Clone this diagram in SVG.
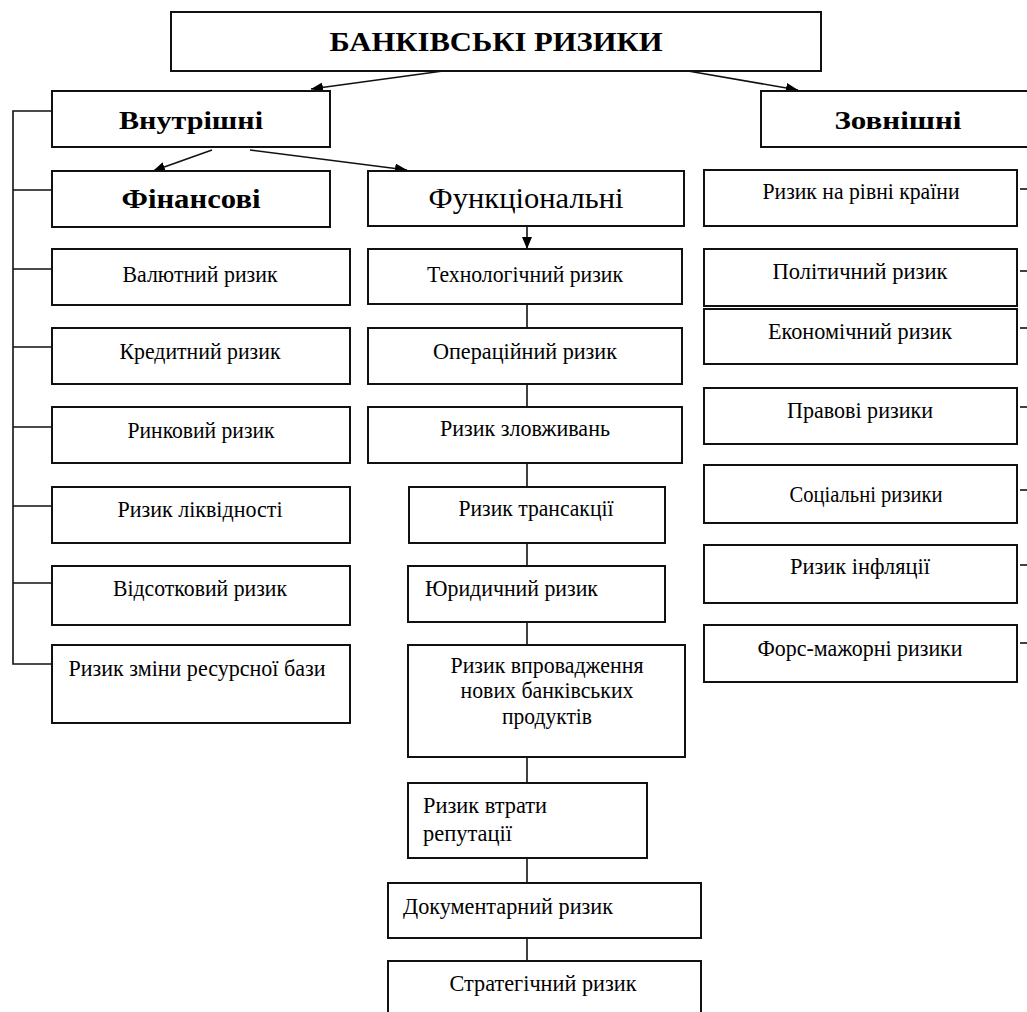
<svg xmlns="http://www.w3.org/2000/svg" width="1027" height="1012" viewBox="0 0 1027 1012">
<style>
.box{fill:#fff;stroke:#111;stroke-width:2}
.t{font-family:"Liberation Serif","Times New Roman",serif;fill:#000}
.s{font-size:23px}
.h{font-size:27px;font-weight:bold}
.c{text-anchor:middle}
.ln{stroke:#111;stroke-width:1.6;fill:none}
</style>
<defs>
<marker id="ah" viewBox="0 0 12 10" refX="12" refY="5" markerWidth="12" markerHeight="10" markerUnits="userSpaceOnUse" orient="auto">
<path d="M0,0 L12,5 L0,10 Z" fill="#000"/>
</marker>
</defs>
<rect width="1027" height="1012" fill="#fff"/>
<g id="connectors">
<line class="ln" x1="443" y1="71" x2="311" y2="89" marker-end="url(#ah)"/>
<line class="ln" x1="688" y1="71" x2="798" y2="90" marker-end="url(#ah)"/>
<line class="ln" x1="212" y1="150" x2="153" y2="171" marker-end="url(#ah)"/>
<line class="ln" x1="250" y1="150" x2="407" y2="170" marker-end="url(#ah)"/>
<line class="ln" x1="527" y1="227" x2="527" y2="249" marker-end="url(#ah)"/>
<polyline class="ln" points="52,111 13,111 13,664 52,664"/>
<line class="ln" x1="13" y1="190" x2="52" y2="190"/>
<line class="ln" x1="13" y1="269" x2="52" y2="269"/>
<line class="ln" x1="13" y1="347" x2="52" y2="347"/>
<line class="ln" x1="13" y1="427" x2="52" y2="427"/>
<line class="ln" x1="13" y1="506" x2="52" y2="506"/>
<line class="ln" x1="13" y1="583" x2="52" y2="583"/>
<line class="ln" x1="527" y1="304" x2="527" y2="328"/>
<line class="ln" x1="527" y1="384" x2="527" y2="407"/>
<line class="ln" x1="527" y1="463" x2="527" y2="487"/>
<line class="ln" x1="527" y1="543" x2="527" y2="566"/>
<line class="ln" x1="527" y1="622" x2="527" y2="645"/>
<line class="ln" x1="527" y1="757" x2="527" y2="783"/>
<line class="ln" x1="527" y1="858" x2="527" y2="883"/>
<line class="ln" x1="527" y1="938" x2="527" y2="961"/>
<line class="ln" x1="1020" y1="189" x2="1027" y2="189"/>
<line class="ln" x1="1020" y1="271" x2="1027" y2="271"/>
<line class="ln" x1="1020" y1="328" x2="1027" y2="328"/>
<line class="ln" x1="1020" y1="407" x2="1027" y2="407"/>
<line class="ln" x1="1020" y1="490" x2="1027" y2="490"/>
<line class="ln" x1="1020" y1="565" x2="1027" y2="565"/>
<line class="ln" x1="1020" y1="643" x2="1027" y2="643"/>
</g>
<g id="n-title"><rect class="box" x="171" y="12" width="650" height="59"/><text class="t c h" x="496" y="51" style="font-size:28px" textLength="333" lengthAdjust="spacingAndGlyphs">БАНКІВСЬКІ РИЗИКИ</text></g>
<g id="n-vnutr"><rect class="box" x="52" y="91" width="278" height="56"/><text class="t c h" x="191" y="129" style="font-size:26px" textLength="144" lengthAdjust="spacingAndGlyphs">Внутрішні</text></g>
<g id="n-zovn"><rect class="box" x="761" y="91" width="280" height="56"/><text class="t c h" x="898" y="129" style="font-size:26px" textLength="127" lengthAdjust="spacingAndGlyphs">Зовнішні</text></g>
<g id="n-fin"><rect class="box" x="52" y="171" width="278" height="56"/><text class="t c h" x="191" y="208" textLength="139" lengthAdjust="spacingAndGlyphs">Фінансові</text></g>
<g id="n-func"><rect class="box" x="368" y="171" width="316" height="55"/><text class="t c" x="526" y="208" style="font-size:29px" textLength="195" lengthAdjust="spacingAndGlyphs">Функціональні</text></g>

<g id="n-val"><rect class="box" x="52" y="249" width="298" height="56"/><text class="t s c" x="200" y="282" textLength="155" lengthAdjust="spacingAndGlyphs">Валютний ризик</text></g>
<g id="n-kred"><rect class="box" x="52" y="328" width="298" height="56"/><text class="t s c" x="200" y="359" textLength="161" lengthAdjust="spacingAndGlyphs">Кредитний ризик</text></g>
<g id="n-rynk"><rect class="box" x="52" y="407" width="298" height="56"/><text class="t s c" x="201" y="438" textLength="147" lengthAdjust="spacingAndGlyphs">Ринковий ризик</text></g>
<g id="n-likv"><rect class="box" x="52" y="487" width="298" height="56"/><text class="t s c" x="200" y="517" textLength="165" lengthAdjust="spacingAndGlyphs">Ризик ліквідності</text></g>
<g id="n-vids"><rect class="box" x="52" y="566" width="298" height="59"/><text class="t s c" x="200" y="596" textLength="174" lengthAdjust="spacingAndGlyphs">Відсотковий ризик</text></g>
<g id="n-resurs"><rect class="box" x="52" y="645" width="298" height="78"/><text class="t s c" x="197" y="676" textLength="257" lengthAdjust="spacingAndGlyphs">Ризик зміни ресурсної бази</text></g>

<g id="n-tech"><rect class="box" x="368" y="249" width="314" height="55"/><text class="t s c" x="525" y="282" textLength="196" lengthAdjust="spacingAndGlyphs">Технологічний ризик</text></g>
<g id="n-oper"><rect class="box" x="368" y="328" width="314" height="56"/><text class="t s c" x="525" y="359" textLength="184" lengthAdjust="spacingAndGlyphs">Операційний ризик</text></g>
<g id="n-zlov"><rect class="box" x="368" y="407" width="314" height="56"/><text class="t s c" x="525" y="436" textLength="170" lengthAdjust="spacingAndGlyphs">Ризик зловживань</text></g>
<g id="n-trans"><rect class="box" x="409" y="487" width="256" height="56"/><text class="t s c" x="536" y="516" textLength="155" lengthAdjust="spacingAndGlyphs">Ризик трансакції</text></g>
<g id="n-yur"><rect class="box" x="408" y="566" width="257" height="56"/><text class="t s" x="425" y="596" textLength="173" lengthAdjust="spacingAndGlyphs">Юридичний ризик</text></g>
<g id="n-vpr"><rect class="box" x="408" y="645" width="277" height="112"/>
<text class="t s c" x="547" y="673" textLength="193" lengthAdjust="spacingAndGlyphs">Ризик впровадження</text>
<text class="t s c" x="547" y="698" textLength="173" lengthAdjust="spacingAndGlyphs">нових банківських</text>
<text class="t s c" x="547" y="724" textLength="90" lengthAdjust="spacingAndGlyphs">продуктів</text></g>
<g id="n-rep"><rect class="box" x="408" y="783" width="239" height="75"/>
<text class="t s" x="423" y="813" textLength="124" lengthAdjust="spacingAndGlyphs">Ризик втрати</text>
<text class="t s" x="423" y="841" textLength="89" lengthAdjust="spacingAndGlyphs">репутації</text></g>
<g id="n-dok"><rect class="box" x="388" y="883" width="313" height="55"/><text class="t s" x="403" y="914" textLength="210" lengthAdjust="spacingAndGlyphs">Документарний ризик</text></g>
<g id="n-strat"><rect class="box" x="388" y="961" width="313" height="60"/><text class="t s c" x="543" y="991" textLength="187" lengthAdjust="spacingAndGlyphs">Стратегічний ризик</text></g>

<g id="n-kraina"><rect class="box" x="704" y="170" width="313" height="56"/><text class="t s c" x="861" y="199" textLength="197" lengthAdjust="spacingAndGlyphs">Ризик на рівні країни</text></g>
<g id="n-polit"><rect class="box" x="704" y="249" width="313" height="57"/><text class="t s c" x="860" y="279" textLength="175" lengthAdjust="spacingAndGlyphs">Політичний ризик</text></g>
<g id="n-ekon"><rect class="box" x="704" y="309" width="313" height="55"/><text class="t s c" x="860" y="339" textLength="184" lengthAdjust="spacingAndGlyphs">Економічний ризик</text></g>
<g id="n-prav"><rect class="box" x="704" y="388" width="313" height="56"/><text class="t s c" x="860" y="418" textLength="146" lengthAdjust="spacingAndGlyphs">Правові ризики</text></g>
<g id="n-soc"><rect class="box" x="704" y="465" width="313" height="58"/><text class="t s c" x="866" y="502" textLength="153" lengthAdjust="spacingAndGlyphs">Соціальні ризики</text></g>
<g id="n-infl"><rect class="box" x="704" y="545" width="313" height="58"/><text class="t s c" x="860" y="574" textLength="140" lengthAdjust="spacingAndGlyphs">Ризик інфляції</text></g>
<g id="n-fors"><rect class="box" x="704" y="625" width="313" height="57"/><text class="t s c" x="860" y="656" textLength="205" lengthAdjust="spacingAndGlyphs">Форс-мажорні ризики</text></g>
</svg>
